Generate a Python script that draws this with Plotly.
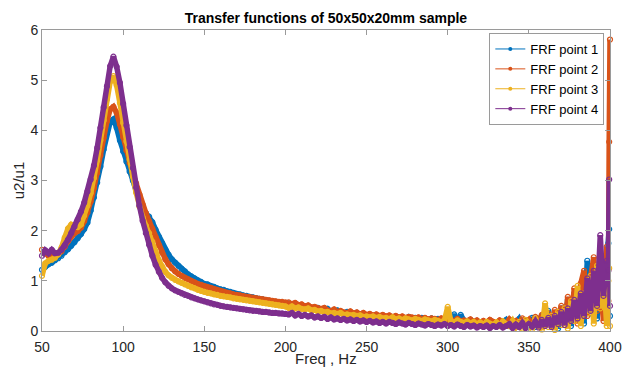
import plotly.graph_objects as go

# Frequency grid (Hz)
freq = list(range(50, 400, 2)) + [399, 399.5, 400]

series_names = ["FRF point 1", "FRF point 2", "FRF point 3", "FRF point 4"]
colors = ["#0072BD", "#D95319", "#EDB120", "#7E2F8E"]

frf1 = [
    # 50-200
    1.22, 1.28, 1.33, 1.36, 1.41, 1.45, 1.50, 1.57, 1.63, 1.70,
    1.77, 1.85, 1.93, 2.03, 2.16, 2.40, 2.66, 2.96, 3.28, 3.62,
    3.95, 4.17, 4.22, 4.05, 3.80, 3.58, 3.38, 3.18, 3.00, 2.80,
    2.60, 2.43, 2.35, 2.28, 2.17, 2.02, 1.88, 1.75, 1.62, 1.52,
    1.43, 1.36, 1.30, 1.24, 1.19, 1.13, 1.09, 1.05, 1.01, 0.98,
    0.94, 0.93, 0.89, 0.88, 0.85, 0.83, 0.82, 0.79, 0.78, 0.76,
    0.74, 0.73, 0.71, 0.70, 0.68, 0.67, 0.65, 0.64, 0.63, 0.61,
    0.60, 0.59, 0.58, 0.57, 0.56, 0.55,
    # 202-398
    0.55, 0.52, 0.54, 0.50, 0.49,
    0.47, 0.50, 0.45, 0.44, 0.46,
    0.42, 0.40, 0.44, 0.38, 0.39,
    0.41, 0.36, 0.35, 0.38, 0.34,
    0.33, 0.36, 0.31, 0.33, 0.30,
    0.32, 0.29, 0.31, 0.28, 0.30,
    0.27, 0.29, 0.26, 0.28, 0.25,
    0.27, 0.24, 0.28, 0.25, 0.26,
    0.23, 0.26, 0.24, 0.22, 0.25,
    0.22, 0.24, 0.21, 0.25, 0.22,
    0.20, 0.33, 0.19, 0.32, 0.21,
    0.18, 0.22, 0.17, 0.20, 0.16,
    0.19, 0.15, 0.21, 0.17, 0.14,
    0.20, 0.16, 0.22, 0.12, 0.19,
    0.15, 0.24, 0.10, 0.21, 0.17,
    0.26, 0.08, 0.22, 0.30, 0.12,
    0.40, 0.15, 0.35, 0.05, 0.45,
    0.20, 0.62, 0.10, 0.75, 0.30,
    0.85, 0.15, 1.40, 0.35, 0.95,
    0.25, 1.10, 0.40, 1.30,
    # 399, 399.5, 400
    1.75, 2.03, 0.30,
]

frf2 = [
    1.62, 1.55, 1.50, 1.48, 1.49, 1.53, 1.59, 1.68, 1.79, 1.89,
    1.95, 1.99, 2.06, 2.19, 2.36, 2.58, 2.85, 3.15, 3.50, 3.85,
    4.18, 4.42, 4.47, 4.35, 4.12, 3.86, 3.60, 3.35, 3.14, 2.94,
    2.72, 2.52, 2.35, 2.19, 2.04, 1.87, 1.71, 1.56, 1.43, 1.33,
    1.25, 1.19, 1.14, 1.10, 1.06, 1.03, 1.00, 0.97, 0.94, 0.92,
    0.89, 0.87, 0.86, 0.83, 0.81, 0.79, 0.78, 0.76, 0.75, 0.73,
    0.72, 0.71, 0.69, 0.68, 0.67, 0.66, 0.65, 0.64, 0.63, 0.62,
    0.61, 0.60, 0.59, 0.58, 0.58, 0.57,
    0.57, 0.54, 0.56, 0.52, 0.53,
    0.49, 0.51, 0.47, 0.48, 0.45,
    0.44, 0.46, 0.41, 0.40, 0.43,
    0.38, 0.40, 0.37, 0.36, 0.39,
    0.35, 0.37, 0.33, 0.36, 0.32,
    0.34, 0.31, 0.33, 0.30, 0.32,
    0.29, 0.31, 0.28, 0.30, 0.27,
    0.29, 0.26, 0.28, 0.27, 0.25,
    0.27, 0.24, 0.26, 0.23, 0.25,
    0.24, 0.22, 0.25, 0.21, 0.23,
    0.22, 0.20, 0.24, 0.19, 0.21,
    0.20, 0.23, 0.18, 0.21, 0.17,
    0.20, 0.16, 0.22, 0.18, 0.15,
    0.21, 0.17, 0.14, 0.23, 0.16,
    0.20, 0.12, 0.25, 0.15, 0.22,
    0.10, 0.28, 0.18, 0.32, 0.12,
    0.35, 0.10, 0.42, 0.22, 0.50,
    0.12, 0.68, 0.25, 0.85, 0.15,
    0.95, 1.20, 0.30, 1.05, 1.47,
    0.40, 0.90, 0.20, 1.68,
    0.60, 3.77, 5.81,
]

frf3 = [
    1.10, 1.35, 1.40, 1.42, 1.46, 1.53, 1.66, 1.86, 2.04, 2.12,
    2.10, 2.07, 2.12, 2.30, 2.50, 2.75, 3.05, 3.40, 3.80, 4.20,
    4.62, 4.97, 5.08, 4.90, 4.55, 4.15, 3.78, 3.42, 3.08, 2.76,
    2.48, 2.27, 2.10, 1.95, 1.78, 1.59, 1.41, 1.28, 1.18, 1.11,
    1.06, 1.02, 0.99, 0.96, 0.93, 0.90, 0.87, 0.85, 0.82, 0.80,
    0.78, 0.76, 0.75, 0.73, 0.72, 0.70, 0.69, 0.68, 0.67, 0.65,
    0.64, 0.63, 0.62, 0.61, 0.60, 0.59, 0.58, 0.57, 0.56, 0.55,
    0.54, 0.53, 0.52, 0.51, 0.50, 0.49,
    0.46, 0.49, 0.45, 0.47, 0.44,
    0.43, 0.45, 0.41, 0.42, 0.39,
    0.40, 0.37, 0.38, 0.35, 0.36,
    0.34, 0.36, 0.32, 0.33, 0.31,
    0.32, 0.30, 0.31, 0.28, 0.29,
    0.27, 0.29, 0.26, 0.28, 0.25,
    0.26, 0.24, 0.27, 0.23, 0.25,
    0.22, 0.25, 0.23, 0.21, 0.24,
    0.22, 0.20, 0.23, 0.21, 0.19,
    0.22, 0.20, 0.18, 0.21, 0.48,
    0.19, 0.17, 0.21, 0.18, 0.16,
    0.19, 0.15, 0.18, 0.14, 0.17,
    0.13, 0.18, 0.15, 0.12, 0.17,
    0.11, 0.19, 0.14, 0.10, 0.20,
    0.08, 0.18, 0.05, 0.22, 0.12,
    0.04, 0.25, 0.10, 0.03, 0.55,
    0.08, 0.30, 0.02, 0.38, 0.12,
    0.45, 0.05, 0.60, 0.20, 0.90,
    0.10, 0.75, 0.35, 1.10, 0.15,
    1.30, 0.45, 1.15, 0.10,
    1.00, 1.25, 0.10,
]

frf4 = [
    1.50, 1.61, 1.55, 1.62, 1.55, 1.56, 1.62, 1.70, 1.82, 1.95,
    2.08, 2.22, 2.38, 2.56, 2.78, 3.02, 3.30, 3.65, 4.05, 4.46,
    4.88, 5.28, 5.47, 5.27, 4.95, 4.53, 4.10, 3.67, 3.25, 2.86,
    2.50, 2.20, 1.95, 1.72, 1.50, 1.32, 1.18, 1.06, 0.97, 0.90,
    0.85, 0.81, 0.78, 0.75, 0.72, 0.70, 0.67, 0.65, 0.63, 0.61,
    0.59, 0.57, 0.55, 0.53, 0.52, 0.50, 0.49, 0.48, 0.47, 0.46,
    0.45, 0.44, 0.43, 0.42, 0.41, 0.40, 0.40, 0.39, 0.38, 0.38,
    0.37, 0.36, 0.36, 0.35, 0.35, 0.34,
    0.33, 0.36, 0.31, 0.34, 0.30,
    0.32, 0.29, 0.31, 0.27, 0.29,
    0.26, 0.28, 0.24, 0.27, 0.23,
    0.25, 0.22, 0.24, 0.21, 0.23,
    0.20, 0.22, 0.19, 0.21, 0.18,
    0.20, 0.17, 0.19, 0.16, 0.18,
    0.15, 0.18, 0.16, 0.14, 0.17,
    0.15, 0.13, 0.16, 0.14, 0.12,
    0.15, 0.13, 0.11, 0.14, 0.12,
    0.10, 0.13, 0.11, 0.14, 0.10,
    0.12, 0.09, 0.13, 0.10, 0.08,
    0.12, 0.09, 0.11, 0.07, 0.10,
    0.08, 0.11, 0.06, 0.10, 0.08,
    0.12, 0.07, 0.10, 0.14, 0.06,
    0.13, 0.08, 0.16, 0.06, 0.14,
    0.09, 0.19, 0.07, 0.22, 0.10,
    0.26, 0.08, 0.30, 0.14, 0.38,
    0.12, 0.45, 0.20, 0.62, 0.25,
    0.75, 0.30, 1.05, 0.40, 1.20,
    0.50, 1.91, 0.70, 1.40,
    1.20, 3.02, 0.50,
]

x_ticks = [50, 100, 150, 200, 250, 300, 350, 400]
y_ticks = [0, 1, 2, 3, 4, 5, 6]

data = [frf1, frf2, frf3, frf4]
for d in data:
    assert len(d) == len(freq), (len(d), len(freq))

fig = go.Figure()
for name, col, vals in zip(series_names, colors, data):
    fig.add_trace(go.Scatter(
        x=freq, y=vals, mode="lines+markers", name=name, showlegend=False,
        line=dict(color=col, width=5.5),
        marker=dict(symbol="circle-open", size=5, color=col, line=dict(width=1.2)),
        cliponaxis=False,
    ))
for name, col in zip(series_names, colors):
    fig.add_trace(go.Scatter(
        x=[None], y=[None], mode="lines+markers", name=name,
        line=dict(color=col, width=1),
        marker=dict(symbol="circle", size=4, color=col),
    ))

axis_common = dict(
    showline=True, mirror="ticks", linecolor="#9a9a9a", linewidth=1,
    ticks="inside", ticklen=5, tickcolor="#9a9a9a", showgrid=False,
    zeroline=False, tickfont=dict(size=14, color="#262626"), automargin=False,
)

fig.update_layout(
    width=628, height=369,
    margin=dict(l=42, r=18, t=30, b=38),
    paper_bgcolor="white", plot_bgcolor="white",
    font=dict(family="Liberation Sans, Arial, sans-serif", color="#262626"),
    title=dict(text="<b>Transfer functions of 50x50x20mm sample</b>",
               x=0.519, xanchor="center", y=0.952, yanchor="middle",
               font=dict(size=14, color="#000000")),
    xaxis=dict(range=[50, 400], tickvals=x_ticks, ticklabelstandoff=3, **axis_common),
    yaxis=dict(range=[0, 6], tickvals=y_ticks, **axis_common,
               title=dict(text="u2/u1", font=dict(size=15, color="#262626"), standoff=2)),
    legend=dict(x=0.99, y=0.99, xanchor="right", yanchor="top",
                bgcolor="white", bordercolor="#9a9a9a", borderwidth=1,
                font=dict(size=13, color="#000000"), itemwidth=30,
                tracegroupgap=0),
    annotations=[dict(text="Freq , Hz", xref="paper", yref="paper",
                      x=0.5, y=-0.09, xanchor="center", yanchor="middle",
                      showarrow=False, font=dict(size=15, color="#262626"))],
)

fig.write_html("out.html")
